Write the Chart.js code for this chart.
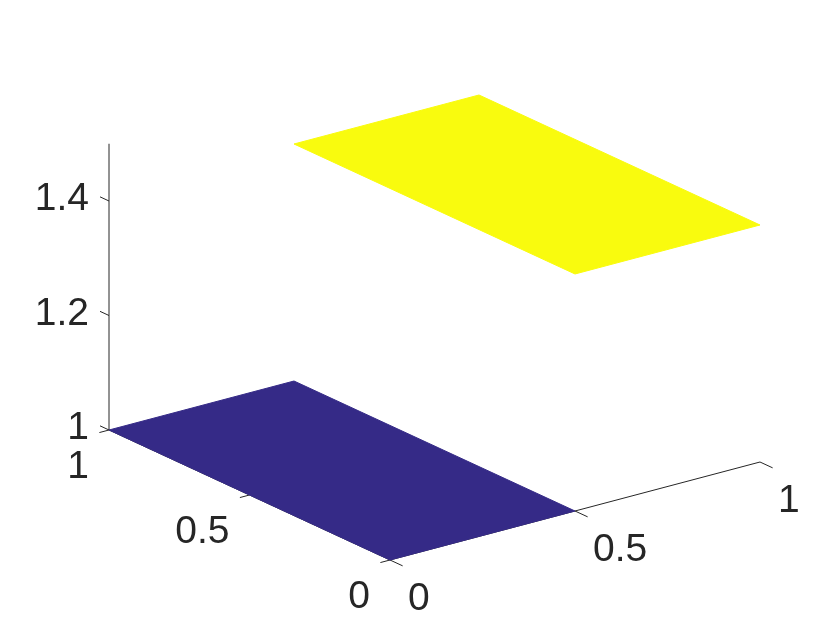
<!DOCTYPE html>
<html>
<head>
<meta charset="utf-8">
<script src="https://cdn.jsdelivr.net/npm/chart.js@4/dist/chart.umd.min.js"></script>
<style>
  html, body { margin: 0; padding: 0; background: #ffffff; }
  canvas { display: block; }
</style>
</head>
<body>
<canvas id="surfChart" width="840" height="630"></canvas>
<script>
// surface data: two flat cells along x, full range in y
const xEdges = [0, 0.5, 1];
const yEdges = [0, 1];
const cellHeights = [1, 1.414];
const cellColors = ["#352a87", "#f9fb0e"];

// axes
const xTicks = [0, 0.5, 1];
const yTicks = [0, 0.5, 1];
const zTicks = [1, 1.2, 1.4];
const zLimits = [1, 1.5];

// view (az -37.5, el 30) as screen vectors, in plot units
const origin = { x: 390, y: 560 };
const xDir = { x: 370, y: -98 };
const yDir = { x: -281, y: -130 };
const zScale = 572.5;

const axisColor = "#262626";
const labelFont = '39px "Liberation Sans", Arial, Helvetica, sans-serif';

function project(x, y, z) {
  return {
    x: origin.x + x * xDir.x + y * yDir.x,
    y: origin.y + x * xDir.y + y * yDir.y - (z - zLimits[0]) * zScale,
  };
}

function lineSet(points, order) {
  return {
    data: points,
    showLine: true,
    borderColor: axisColor,
    borderWidth: 1,
    pointRadius: 0,
    fill: false,
    order: order,
  };
}

const datasets = [];

// surface cells
for (let i = 0; i < cellHeights.length; i++) {
  const z = cellHeights[i];
  const x0 = xEdges[i], x1 = xEdges[i + 1];
  const y0 = yEdges[0], y1 = yEdges[yEdges.length - 1];
  datasets.push({
    data: [project(x0, y0, z), project(x1, y0, z), project(x1, y1, z), project(x0, y1, z), project(x0, y0, z)],
    showLine: true,
    borderColor: cellColors[i],
    backgroundColor: cellColors[i],
    borderWidth: 1,
    pointRadius: 0,
    fill: "shape",
    order: 0,
  });
}

const xMin = xTicks[0], xMax = xTicks[xTicks.length - 1];
const yMin = yTicks[0], yMax = yTicks[yTicks.length - 1];

// axis lines
datasets.push(lineSet([project(xMin, yMin, zLimits[0]), project(xMax, yMin, zLimits[0])], 1));
datasets.push(lineSet([project(xMin, yMin, zLimits[0]), project(xMin, yMax, zLimits[0])], 1));
datasets.push(lineSet([project(xMin, yMax, zLimits[0]), project(xMin, yMax, zLimits[1])], 1));

// tick marks
xTicks.forEach(t => datasets.push(lineSet([project(t, yMin, zLimits[0]), project(t, yMin - 0.045, zLimits[0])], 1)));
yTicks.forEach(t => datasets.push(lineSet([project(xMin, t, zLimits[0]), project(xMin - 0.026, t, zLimits[0])], 1)));
zTicks.forEach(t => datasets.push(lineSet([project(xMin, yMax, t), project(xMin, yMax + 0.032, t)], 1)));

const tickLabels = {
  id: "tickLabels",
  afterDraw(chart) {
    const ctx = chart.ctx;
    const sx = chart.scales.x, sy = chart.scales.y;
    const put = (p, text, dx, dy, align) => {
      ctx.textAlign = align;
      ctx.fillText(text, sx.getPixelForValue(p.x) + dx, sy.getPixelForValue(p.y) + dy);
    };
    ctx.save();
    ctx.font = labelFont;
    ctx.fillStyle = axisColor;
    ctx.textBaseline = "alphabetic";
    xTicks.forEach(t => put(project(t, yMin, zLimits[0]), String(t), 18, 50, "left"));
    yTicks.forEach(t => put(project(xMin, t, zLimits[0]), String(t), -20, 48, "right"));
    zTicks.forEach(t => put(project(xMin, yMax, t), String(t), -20, 9, "right"));
    ctx.restore();
  },
};

new Chart(document.getElementById("surfChart"), {
  type: "scatter",
  data: { datasets: datasets },
  options: {
    responsive: false,
    animation: false,
    devicePixelRatio: 1,
    layout: { padding: 0 },
    plugins: { legend: { display: false }, tooltip: { enabled: false } },
    scales: {
      x: { type: "linear", min: 0, max: 840, display: false },
      y: { type: "linear", min: 0, max: 630, reverse: true, display: false },
    },
  },
  plugins: [tickLabels],
});
</script>
</body>
</html>
